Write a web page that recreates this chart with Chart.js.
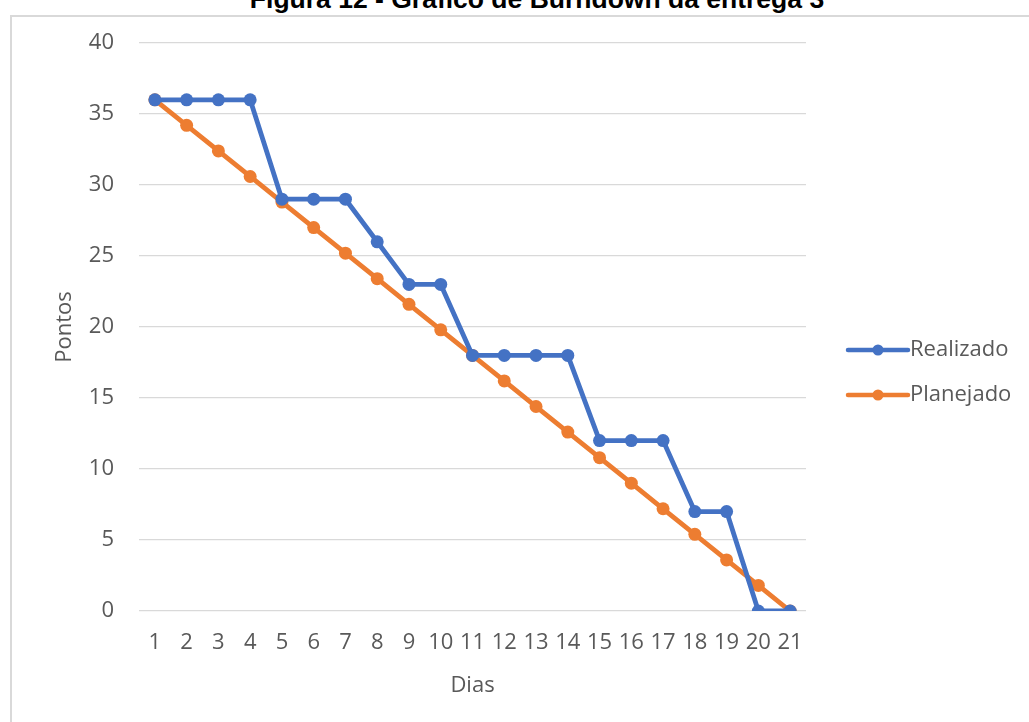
<!DOCTYPE html>
<html lang="pt">
<head>
<meta charset="utf-8">
<title>Burndown da entrega 3</title>
<script src="https://cdn.jsdelivr.net/npm/chart.js@4.4.1/dist/chart.umd.min.js"></script>
<style>
  html, body { margin: 0; padding: 0; background: #fff; }
  body { width: 1029px; height: 722px; position: relative; overflow: hidden; }
  #titulo {
    position: absolute; left: 0; width: 1074px; top: -16px;
    text-align: center; font: bold 26.5px "Liberation Sans", Arial, sans-serif; color: #000;
    white-space: nowrap;
  }
  #moldura {
    position: absolute; left: 10px; top: 15px; width: 1040px; height: 720px;
    border-left: 2px solid #d9d9d9; border-top: 2px solid #d9d9d9;
    box-sizing: border-box;
  }
  #wrap { position: absolute; left: 0; top: 0; width: 1029px; height: 722px; }
</style>
</head>
<body>
<div id="titulo">Figura 12 - Gráfico de Burndown da entrega 3</div>
<div id="moldura"></div>
<div id="wrap"><canvas id="grafico" width="1029" height="722"></canvas></div>
<script>
// Dias do sprint
const dias = ['1','2','3','4','5','6','7','8','9','10','11','12','13','14','15','16','17','18','19','20','21'];
// Pontos restantes realizados
const realizado = [36,36,36,36,29,29,29,26,23,23,18,18,18,18,12,12,12,7,7,0,0];
// Pontos restantes planejados
const planejado = [36,34.2,32.4,30.6,28.8,27,25.2,23.4,21.6,19.8,18,16.2,14.4,12.6,10.8,9,7.2,5.4,3.6,1.8,0];
const nomesSeries = ['Realizado','Planejado'];

const AZUL = '#4472C4';
const LARANJA = '#ED7D31';
const TEXTO = '#595959';
const FONTE = '"Open Sans", "Noto Sans", sans-serif';
const TAM = 22;

// Legenda à direita no estilo linha + marcador
const legendaLateral = {
  id: 'legendaLateral',
  afterDraw(chart) {
    const ctx = chart.ctx;
    const x0 = 848, x1 = 908, yBase = 350, passo = 45;
    chart.data.datasets.forEach((ds, i) => {
      const y = yBase + i * passo;
      ctx.save();
      ctx.strokeStyle = ds.borderColor;
      ctx.lineWidth = 4.5;
      ctx.lineCap = 'round';
      ctx.beginPath();
      ctx.moveTo(x0, y);
      ctx.lineTo(x1, y);
      ctx.stroke();
      ctx.fillStyle = ds.borderColor;
      ctx.beginPath();
      ctx.arc((x0 + x1) / 2, y, 5.5, 0, Math.PI * 2);
      ctx.fill();
      ctx.fillStyle = TEXTO;
      ctx.font = TAM + 'px ' + FONTE;
      ctx.textBaseline = 'middle';
      ctx.textAlign = 'left';
      ctx.fillText(ds.label, x1 + 2, y);
      ctx.restore();
    });
  }
};

new Chart(document.getElementById('grafico'), {
  type: 'line',
  data: {
    labels: dias,
    datasets: [
      {
        label: nomesSeries[0], data: realizado,
        borderColor: AZUL, backgroundColor: AZUL,
        borderWidth: 4.8, pointRadius: 6.5, pointBorderWidth: 0,
        pointBackgroundColor: AZUL, borderCapStyle: 'round', borderJoinStyle: 'round',
        tension: 0
      },
      {
        label: nomesSeries[1], data: planejado,
        borderColor: LARANJA, backgroundColor: LARANJA,
        borderWidth: 4.8, pointRadius: 6.5, pointBorderWidth: 0,
        pointBackgroundColor: LARANJA, borderCapStyle: 'round', borderJoinStyle: 'round',
        tension: 0
      }
    ]
  },
  options: {
    responsive: false,
    animation: false,
    layout: { padding: { left: 0, right: 223, top: 43, bottom: 0 } },
    plugins: {
      legend: { display: false },
      tooltip: { enabled: false },
      title: { display: false }
    },
    scales: {
      x: {
        type: 'category',
        offset: true,
        grid: { display: false, drawTicks: false },
        border: { display: false },
        ticks: { color: TEXTO, font: { family: FONTE, size: TAM }, padding: 19, maxRotation: 0, autoSkip: false },
        title: { display: true, text: 'Dias', color: TEXTO, font: { family: FONTE, size: TAM }, padding: { top: 0, bottom: 23 } },
        afterFit(s) { s.height = 111; }
      },
      y: {
        min: 0, max: 40,
        grid: { color: '#d9d9d9', lineWidth: 1.2, drawTicks: false },
        border: { display: false },
        ticks: { stepSize: 5, color: TEXTO, font: { family: FONTE, size: TAM }, padding: 25 },
        title: { display: true, text: 'Pontos', color: TEXTO, font: { family: FONTE, size: TAM }, padding: { top: 52, bottom: 0 } },
        afterFit(s) { s.width = 139; }
      }
    }
  },
  plugins: [legendaLateral]
});
</script>
</body>
</html>
